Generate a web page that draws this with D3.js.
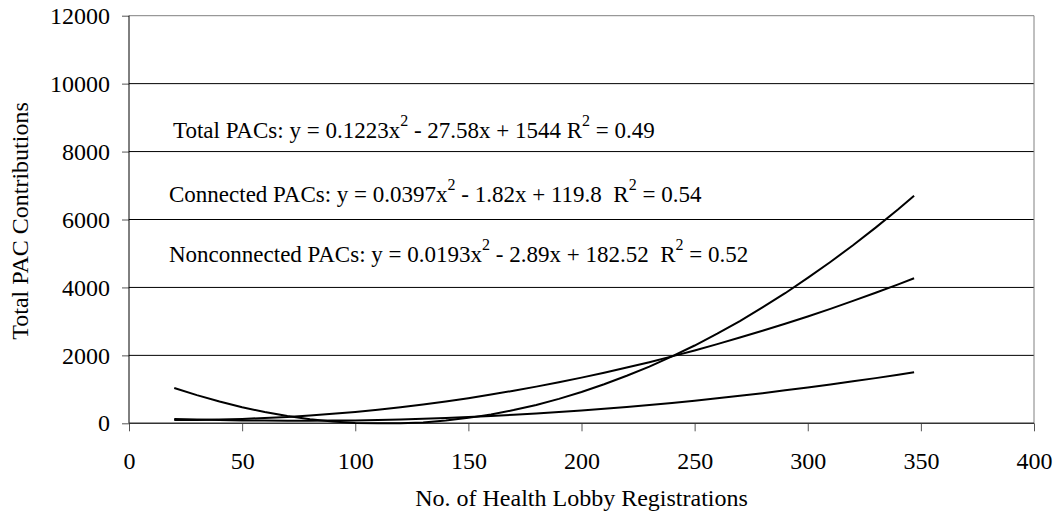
<!DOCTYPE html>
<html>
<head>
<meta charset="utf-8">
<script src="https://d3js.org/d3.v7.min.js"></script>
<style>
  body { margin: 0; background: #fff; }
  svg text { font-family: 'Liberation Serif', Tinos, Times, 'DejaVu Serif', serif; fill: #000; }
</style>
</head>
<body>
<div id="chart"></div>
<script>
// Health lobby registrations vs PAC contributions (fitted curves)

const registrations = [20, 30, 40, 50, 60, 70, 80, 90, 100, 110, 120, 130, 140, 150, 160, 170, 180,
  190, 200, 210, 220, 230, 240, 250, 260, 270, 280, 290, 300, 310, 320, 330, 340, 347];

const totalPACs = [1040, 830, 640, 470, 330, 215, 120, 50, 10, 0, 0, 25, 80, 160, 260, 390, 540,
  720, 920, 1150, 1400, 1670, 1970, 2290, 2640, 3010, 3410, 3830, 4280, 4750, 5240, 5760, 6300, 6700];

const connectedPACs = [100, 100, 110, 130, 155, 185, 230, 280, 335, 400, 475, 555, 645, 740, 845, 960, 1080,
  1210, 1345, 1490, 1640, 1800, 1970, 2145, 2330, 2525, 2725, 2930, 3145, 3370, 3605, 3845, 4090, 4270];

const nonconnectedPACs = [130, 115, 100, 85, 80, 75, 75, 80, 85, 100, 115, 135, 155, 185, 215, 250, 290,
  330, 375, 425, 480, 540, 600, 665, 735, 810, 885, 970, 1055, 1140, 1235, 1330, 1430, 1505];

const xTicks = [0, 50, 100, 150, 200, 250, 300, 350, 400];
const yTicks = [0, 2000, 4000, 6000, 8000, 10000, 12000];

// trendline labels: [text before sup, sup, middle, sup, end]
const equations = [
  { parts: ['Total PACs: y = 0.1223x', '2', ' - 27.58x + 1544 R', '2', ' = 0.49'], x: 173, y: 138 },
  { parts: ['Connected PACs: y = 0.0397x', '2', ' - 1.82x + 119.8  R', '2', ' = 0.54'], x: 169, y: 202 },
  { parts: ['Nonconnected PACs: y = 0.0193x', '2', ' - 2.89x + 182.52  R', '2', ' = 0.52'], x: 169, y: 262 }
];

const width = 1063, height = 520;
const plotLeft = 129, plotRight = 1034, plotTop = 15.7, plotBottom = 423.3;
const serif = "'Liberation Serif', Tinos, Times, 'DejaVu Serif', serif";

const svg = d3.select('#chart').append('svg')
  .attr('width', width)
  .attr('height', height)
  .attr('font-family', serif);

const x = d3.scaleLinear().domain([0, 400]).range([plotLeft, plotRight]);
const y = d3.scaleLinear().domain([0, 12000]).range([plotBottom, plotTop]);

// gridlines
svg.append('g')
  .selectAll('line')
  .data(yTicks.filter(d => d > 0 && d < 12000))
  .enter()
  .append('line')
  .attr('x1', plotLeft).attr('x2', plotRight)
  .attr('y1', d => y(d)).attr('y2', d => y(d))
  .style('stroke', '#000')
  .style('stroke-width', 1);

// plot frame (top + right in gray)
svg.append('line')
  .attr('x1', plotLeft).attr('x2', plotRight)
  .attr('y1', y(12000)).attr('y2', y(12000))
  .style('stroke', '#808080');
svg.append('line')
  .attr('x1', plotRight).attr('x2', plotRight)
  .attr('y1', plotTop).attr('y2', plotBottom)
  .style('stroke', '#808080');

// axes
const yAxis = svg.append('g')
  .attr('transform', `translate(${plotLeft},0)`)
  .call(d3.axisLeft(y).tickValues(yTicks).tickSize(7).tickPadding(12).tickFormat(d3.format('d')));

const xAxis = svg.append('g')
  .attr('transform', `translate(0,${plotBottom})`)
  .call(d3.axisBottom(x).tickValues(xTicks).tickSize(8).tickPadding(21).tickFormat(d3.format('d')));

[yAxis, xAxis].forEach(g => {
  g.attr('font-family', serif).attr('font-size', 24);
  g.select('.domain').remove();
  g.selectAll('text').style('font-size', '24px').style('font-family', serif);
  g.selectAll('line').style('stroke', '#555');
});

svg.append('line')
  .attr('x1', plotLeft).attr('x2', plotLeft)
  .attr('y1', plotTop).attr('y2', plotBottom)
  .style('stroke', '#000');
svg.append('line')
  .attr('x1', plotLeft).attr('x2', plotRight)
  .attr('y1', plotBottom).attr('y2', plotBottom)
  .style('stroke', '#333')
  .style('stroke-width', 1.5);

// curves
const line = d3.line()
  .x((d, i) => x(registrations[i]))
  .y(d => y(d));

[totalPACs, connectedPACs, nonconnectedPACs].forEach(series => {
  svg.append('path')
    .datum(series)
    .attr('d', line)
    .style('fill', 'none')
    .style('stroke', '#000')
    .style('stroke-width', 2);
});

// equation labels
equations.forEach(eq => {
  const t = svg.append('text')
    .attr('x', eq.x)
    .attr('y', eq.y)
    .style('font-size', '23px')
    .style('font-family', serif)
    .style('white-space', 'pre');
  eq.parts.forEach((p, i) => {
    const sup = i % 2 === 1;
    t.append('tspan')
      .attr('dy', sup ? -12 : (i > 0 ? 12 : 0))
      .style('font-size', sup ? '16px' : '23px')
      .text(p);
  });
});

// axis titles
svg.append('text')
  .attr('x', (plotLeft + plotRight) / 2)
  .attr('y', 506)
  .attr('text-anchor', 'middle')
  .style('font-size', '24px')
  .style('font-family', serif)
  .text('No. of Health Lobby Registrations');

svg.append('text')
  .attr('transform', 'translate(28,221) rotate(-90)')
  .attr('text-anchor', 'middle')
  .style('font-size', '24px')
  .style('font-family', serif)
  .text('Total PAC Contributions');
</script>
</body>
</html>
